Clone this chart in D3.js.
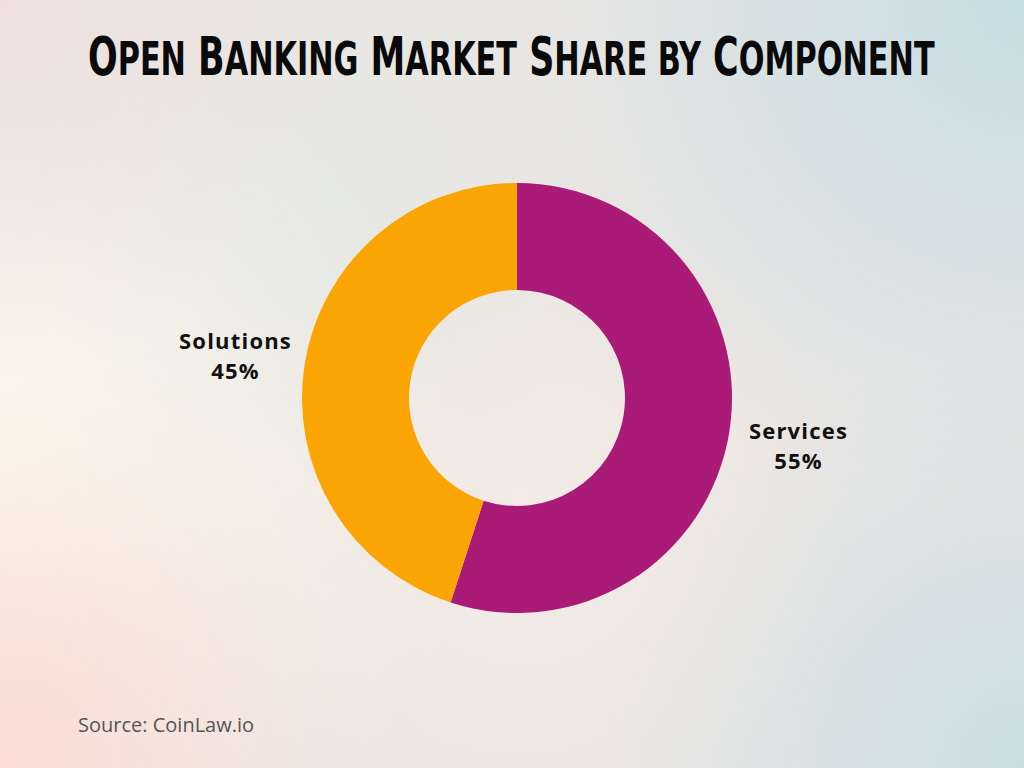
<!DOCTYPE html>
<html>
<head>
<meta charset="utf-8">
<script src="https://cdn.jsdelivr.net/npm/d3@7"></script>
<style>
html,body{margin:0;padding:0;}
body{width:1024px;height:768px;overflow:hidden;}
</style>
</head>
<body>
<svg id="chart" width="1024" height="768"></svg>
<script>
const categories = ["Services", "Solutions"];
const values = [55, 45];
const colors = ["#AA1B78", "#FBA504"];
const titleWords = ["Open", "Banking", "Market", "Share", "by", "Component"];
const source = "Source: CoinLaw.io";

const svg = d3.select("#chart");
const W = 1024, H = 768;
const defs = svg.append("defs");

// background
svg.append("rect").attr("width",W).attr("height",H).attr("fill","#EAE6E3");
function blob(id, cx, cy, r, color, op) {
  const g = defs.append("radialGradient").attr("id", id)
    .attr("gradientUnits","userSpaceOnUse")
    .attr("cx", cx).attr("cy", cy).attr("r", r);
  g.append("stop").attr("offset","0").attr("stop-color",color).attr("stop-opacity",op);
  g.append("stop").attr("offset","1").attr("stop-color",color).attr("stop-opacity",0);
  svg.append("rect").attr("width",W).attr("height",H).attr("fill",`url(#${id})`);
}
blob("b1", 1024, 0, 520, "#C6DDE3", 1);
blob("b2", 1024, 768, 420, "#C9DEE3", 1);
blob("b3", 0, 470, 480, "#FDF9EE", 1);
blob("b4", 0, 768, 420, "#FADDD5", 1);
blob("b5", 0, 0, 360, "#EFDFDC", 0.9);
blob("b6", 520, 520, 330, "#F6ECE6", 0.8);
blob("b7", 330, 200, 300, "#E3E9E5", 0.6);

// title: simulated small caps, horizontally condensed by a scale transform
const titleG = svg.append("g");
const title = titleG.append("text")
  .attr("x", 0).attr("y", 0)
  .attr("font-family","'DejaVu Sans Condensed','Liberation Sans Narrow',sans-serif")
  .attr("font-weight","bold")
  .attr("fill","#0a0a0a");
titleWords.forEach((w, i) => {
  const isLowerWord = w === w.toLowerCase();
  if (isLowerWord) {
    title.append("tspan").attr("font-size", 46).text((i ? " " : "") + w.toUpperCase());
  } else {
    title.append("tspan").attr("font-size", 53).text((i ? " " : "") + w[0].toUpperCase());
    title.append("tspan").attr("font-size", 46).text(w.slice(1).toUpperCase());
  }
});
const natW = title.node().getComputedTextLength();
const targetW = 847, left = 88;
titleG.attr("transform", `translate(${left},75) scale(${targetW / natW},1)`);

// donut
const cx = 517, cy = 398, R = 215, r = 108;
const pie = d3.pie().sort(null).value(d => d.v);
const arcs = pie(categories.map((c,i)=>({c, v: values[i], col: colors[i]})));
const arc = d3.arc().innerRadius(r).outerRadius(R);
const g = svg.append("g").attr("transform",`translate(${cx},${cy})`);
g.selectAll("path").data(arcs).join("path")
  .attr("d", arc)
  .attr("fill", d => d.data.col);

// labels outside along mid-angle
const labelR = 285;
const lab = svg.append("g").attr("transform",`translate(${cx},${cy})`);
arcs.forEach(d => {
  const a = (d.startAngle + d.endAngle)/2;
  const x = Math.sin(a) * labelR;
  const y = -Math.cos(a) * labelR;
  const t = lab.append("text")
    .attr("text-anchor","middle")
    .attr("font-family","'Open Sans', Lato, sans-serif")
    .attr("font-weight","bold")
    .attr("font-size", 22)
    .attr("letter-spacing", 1.2)
    .attr("fill","#111");
  t.append("tspan").attr("x", x).attr("y", y - 4).text(d.data.c);
  t.append("tspan").attr("x", x).attr("y", y + 26).text(d.data.v + "%");
});

// source
svg.append("text")
  .attr("x", 78).attr("y", 732)
  .attr("font-family","'Open Sans', Roboto, sans-serif")
  .attr("font-size", 20)
  .attr("fill","#555")
  .text(source);
</script>
</body>
</html>
